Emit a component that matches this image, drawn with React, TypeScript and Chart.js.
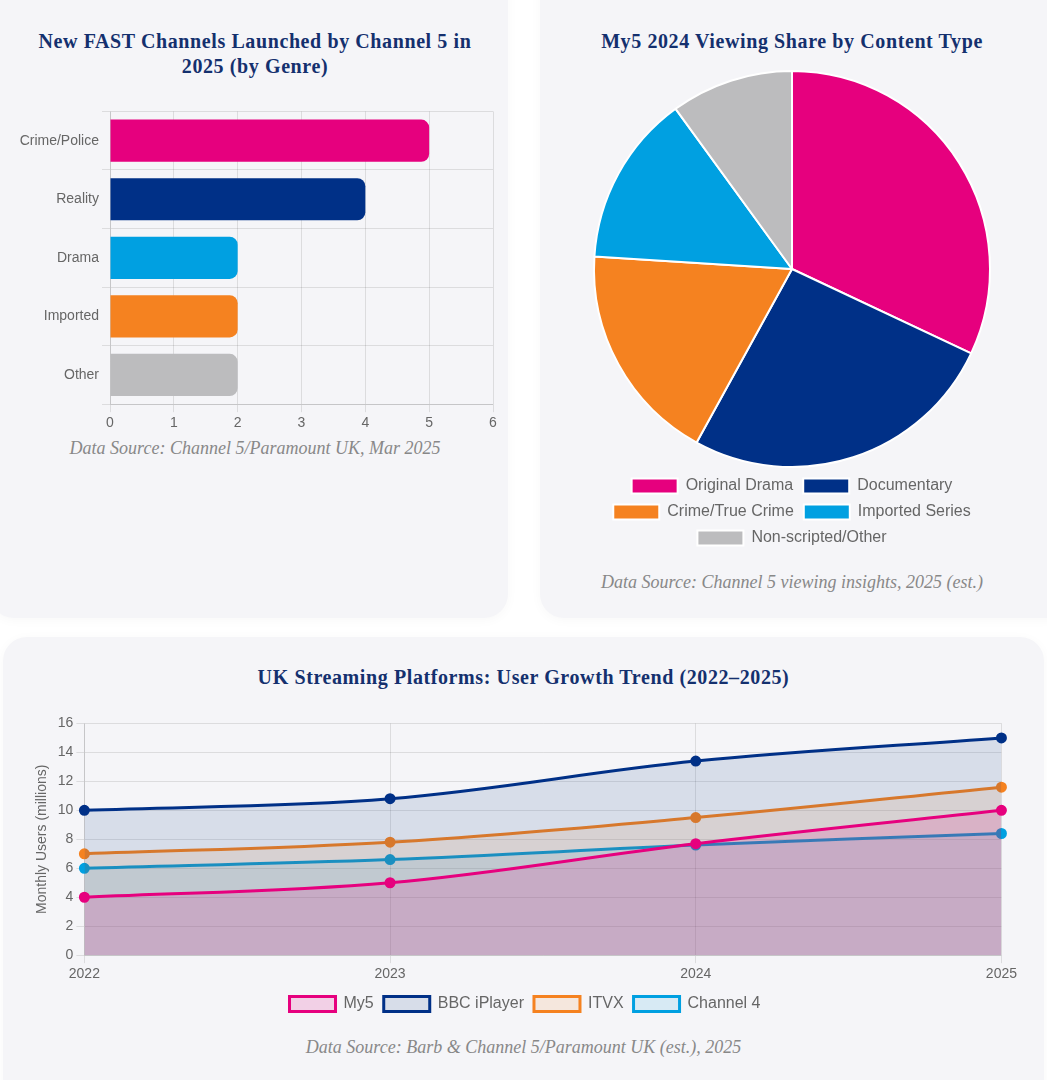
import Chart from "chart.js/auto"
import { CSSProperties, FC, useEffect, useRef } from "react"

const genres = ["Crime/Police", "Reality", "Drama", "Imported", "Other"]
const channelCounts = [5, 4, 2, 2, 2]

const contentTypes = ["Original Drama", "Documentary", "Crime/True Crime", "Imported Series", "Non-scripted/Other"]
const viewingShare = [32, 26, 18, 14, 10]

const years = ["2022", "2023", "2024", "2025"]
const my5Users = [4, 5, 7.7, 10]
const iPlayerUsers = [10, 10.8, 13.4, 15]
const itvxUsers = [7, 7.8, 9.5, 11.6]
const channel4Users = [6, 6.6, 7.6, 8.4]

const PINK = "#e6007e"
const NAVY = "#003087"
const BLUE = "#00a0e1"
const ORANGE = "#f58220"
const GREY = "#bcbcbe"

const SANS = "'Liberation Sans', Arial, sans-serif"
const SERIF = "'Liberation Serif', 'Times New Roman', serif"

const useChart = (config: () => any) => {
    const ref = useRef<HTMLCanvasElement>(null)

    useEffect(() => {
        if (!ref.current) return
        const chart = new Chart(ref.current, config())
        return () => chart.destroy()
    }, [])

    return ref
}

const cardStyle = (left: number, top: number, width: number, height: number): CSSProperties => ({
    position: "absolute",
    left,
    top,
    width,
    height,
    background: "#f5f5f8",
    borderRadius: 24,
    boxShadow: "0 2px 12px rgba(0,0,0,0.03)"
})

const titleStyle = (left: number, top: number, width: number): CSSProperties => ({
    position: "absolute",
    left,
    top,
    width,
    margin: 0,
    textAlign: "center",
    color: "#14306e",
    fontFamily: SERIF,
    fontWeight: "bold",
    fontSize: 20,
    lineHeight: "25px",
    letterSpacing: 0.6
})

const sourceStyle = (left: number, top: number, width: number): CSSProperties => ({
    position: "absolute",
    left,
    top,
    width,
    margin: 0,
    textAlign: "center",
    color: "#888",
    fontFamily: SERIF,
    fontStyle: "italic",
    fontSize: 18,
    lineHeight: "22px"
})

const canvasStyle = (left: number, top: number, width: number, height: number): CSSProperties => ({
    position: "absolute",
    left,
    top,
    width,
    height
})

const tickFont = { family: SANS, size: 14 }

const App: FC = () => {
    const barRef = useChart(() => ({
        type: "bar",
        data: {
            labels: genres,
            datasets: [
                {
                    data: channelCounts,
                    backgroundColor: [PINK, NAVY, BLUE, ORANGE, GREY],
                    borderRadius: 8
                }
            ]
        },
        options: {
            indexAxis: "y",
            animation: false,
            responsive: false,
            plugins: { legend: { display: false } },
            layout: { padding: { top: 9, right: 10 } },
            scales: {
                x: {
                    min: 0,
                    max: 6,
                    ticks: { stepSize: 1, color: "#666", font: tickFont }
                },
                y: {
                    ticks: { color: "#666", font: tickFont },
                    afterFit: (scale: any) => {
                        scale.width = 102
                    }
                }
            }
        }
    }))

    const pieRef = useChart(() => ({
        type: "pie",
        data: {
            labels: contentTypes,
            datasets: [
                {
                    data: viewingShare,
                    backgroundColor: [PINK, NAVY, ORANGE, BLUE, GREY],
                    borderColor: "#fff",
                    borderWidth: 2
                }
            ]
        },
        options: {
            animation: false,
            responsive: false,
            plugins: {
                legend: {
                    position: "bottom",
                    labels: { color: "#666", boxWidth: 46, boxHeight: 15, font: { family: SANS, size: 16 } }
                }
            }
        }
    }))

    const lineRef = useChart(() => ({
        type: "line",
        data: {
            labels: years,
            datasets: [
                {
                    label: "My5",
                    data: my5Users,
                    borderColor: PINK,
                    backgroundColor: "rgba(230,0,126,0.15)"
                },
                {
                    label: "BBC iPlayer",
                    data: iPlayerUsers,
                    borderColor: NAVY,
                    backgroundColor: "rgba(0,48,135,0.12)"
                },
                {
                    label: "ITVX",
                    data: itvxUsers,
                    borderColor: ORANGE,
                    backgroundColor: "rgba(245,130,32,0.12)"
                },
                {
                    label: "Channel 4",
                    data: channel4Users,
                    borderColor: BLUE,
                    backgroundColor: "rgba(0,160,225,0.12)"
                }
            ].map((set) => ({
                ...set,
                fill: true,
                tension: 0.35,
                borderWidth: 3,
                pointRadius: 4,
                pointBackgroundColor: set.borderColor
            }))
        },
        options: {
            animation: false,
            responsive: false,
            plugins: {
                legend: {
                    position: "bottom",
                    labels: { color: "#666", boxWidth: 46, boxHeight: 15, font: { family: SANS, size: 16 } }
                }
            },
            scales: {
                x: { ticks: { color: "#666", font: tickFont } },
                y: {
                    min: 0,
                    max: 16,
                    ticks: { stepSize: 2, color: "#666", font: tickFont },
                    title: { display: true, text: "Monthly Users (millions)", color: "#666", font: tickFont }
                }
            }
        }
    }))

    return (
        <div style={{ position: "absolute", left: 0, top: 0, width: 1047, height: 1080, overflow: "hidden", background: "#fff" }}>
            <div style={cardStyle(-10, -30, 518, 648)} />
            <div style={cardStyle(540, -30, 530, 648)} />
            <div style={cardStyle(3, 637, 1041, 470)} />

            <h3 style={titleStyle(20, 29, 470)}>New FAST Channels Launched by Channel 5 in 2025 (by Genre)</h3>
            <canvas ref={barRef} width={495} height={335} style={canvasStyle(8, 100, 495, 335)} />
            <p style={sourceStyle(20, 437, 470)}>Data Source: Channel 5/Paramount UK, Mar 2025</p>

            <h3 style={titleStyle(552, 29, 480)}>My5 2024 Viewing Share by Content Type</h3>
            <canvas ref={pieRef} width={480} height={486} style={canvasStyle(552, 70, 480, 486)} />
            <p style={sourceStyle(552, 571, 480)}>Data Source: Channel 5 viewing insights, 2025 (est.)</p>

            <h3 style={titleStyle(20, 665, 1007)}>UK Streaming Platforms: User Growth Trend (2022–2025)</h3>
            <canvas ref={lineRef} width={990} height={310} style={canvasStyle(30, 712, 990, 310)} />
            <p style={sourceStyle(20, 1036, 1007)}>Data Source: Barb &amp; Channel 5/Paramount UK (est.), 2025</p>
        </div>
    )
}

export default App
